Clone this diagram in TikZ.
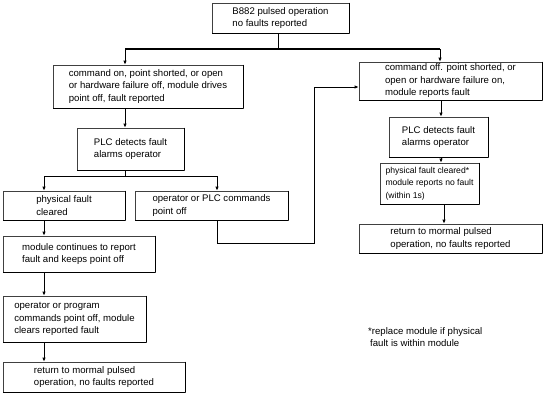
\documentclass[tikz,border=0pt]{standalone}
\usepackage{fontspec}
\setmainfont{Liberation Sans}
\usetikzlibrary{arrows.meta}
\begin{document}
\begin{tikzpicture}[x=1pt,y=-1pt,
  box/.style={draw=black!75, line width=0.7pt, align=left, inner sep=2pt,
    font=\fontsize{9.6}{12.5}\selectfont,
    append after command={(\tikzlastnode.north east) edge[line width=1.3pt, black] (\tikzlastnode.south east)
      (\tikzlastnode.south east) edge[line width=1.3pt, black] (\tikzlastnode.south west)}},
  arr/.style={line width=0.8pt, -{Latex[length=4pt,width=3.5pt]}},
  ln/.style={line width=0.8pt},
  thick line/.style={line width=2.4pt},
  note/.style={align=left, inner sep=0pt, font=\fontsize{9.6}{12.5}\selectfont}]
\useasboundingbox (0,0) rectangle (552,408);
\fill[white] (0,0) rectangle (552,408);
% boxes
\node[box, minimum width=137, minimum height=30] (top) at (280.5,18) {B882 pulsed operation\\no faults reported};
\node[box, minimum width=190, minimum height=43] (b1) at (148,86.5) {command on, point shorted, or open\\or hardware failure off, module drives\\point off, fault reported};
\node[box, minimum width=107, minimum height=42] (plcA) at (130.5,149) {PLC detects fault\\alarms operator};
\node[box, minimum width=122, minimum height=29] (pf) at (64,205.5) {physical fault\\cleared};
\node[box, minimum width=153, minimum height=29] (op) at (211.5,205.5) {operator or PLC commands\\point off\hspace*{80pt}};
\node[box, minimum width=152, minimum height=36] (mc) at (79,254) {module continues to report\\fault and keeps point off};
\node[box, minimum width=143, minimum height=46] (opp) at (74.5,319) {operator or program\\commands point off, module\\clears reported fault};
\node[box, minimum width=182, minimum height=30] (retA) at (94,377) {return to mormal pulsed\\operation, no faults reported};
\node[box, minimum width=183, minimum height=32] (r1) at (450.5,81) {command off. point shorted, or\\open or hardware failure on,\\module reports fault};
\node[box, minimum width=99, minimum height=40] (plcB) at (438.5,137) {PLC detects fault\\alarms operator};
\node[box, minimum width=99, minimum height=41, inner sep=1pt, font=\fontsize{8.6}{12.5}\selectfont] (pfc) at (429.5,183.5) {physical fault cleared*\\module reports no fault\\(within 1s)};
\node[box, minimum width=183, minimum height=29] (retB) at (450.5,238.5) {return to mormal pulsed\\operation, no faults reported};
\node[note, anchor=north west] (fn) at (368,327) {*replace module if physical\\\hspace*{2pt}fault is within module};
% junctions
\coordinate (j0) at (278,49);
\coordinate (jl) at (125,49);
\coordinate (jr) at (440,49);
\coordinate (s1) at (125,176);
\coordinate (sl) at (44,176);
\coordinate (sr) at (217,176);
\coordinate (c1) at (217,243);
\coordinate (c2) at (314,243);
\coordinate (c3) at (314,87);
% connectors
\draw[ln] (j0 |- top.south) -- (j0);
\draw[thick line] (jl) -- (jr);
\draw[arr] (jl) -- (jl |- b1.north);
\draw[arr] (jr) -- (jr |- r1.north);
\draw[arr] (jl |- b1.south) -- (jl |- plcA.north);
\draw[ln] (s1 |- plcA.south) -- (s1);
\draw[ln] (sl) -- (sr);
\draw[arr] (sl) -- (sl |- pf.north);
\draw[arr] (sr) -- (sr |- op.north);
\draw[arr] (sl |- pf.south) -- (sl |- mc.north);
\draw[arr] (sl |- mc.south) -- (sl |- opp.north);
\draw[arr] (sl |- opp.south) -- (sl |- retA.north);
\draw[ln] (c1 |- op.south) -- (c1) -- (c2) -- (c3);
\draw[arr] (c3) -- (c3 -| r1.west);
\draw[arr] (441,0 |- r1.south) -- (441,0 |- plcB.north);
\draw[arr] (441,0 |- plcB.south) -- (441,0 |- pfc.north);
\draw[arr] (444,0 |- pfc.south) -- (444,0 |- retB.north);
\end{tikzpicture}
\end{document}
